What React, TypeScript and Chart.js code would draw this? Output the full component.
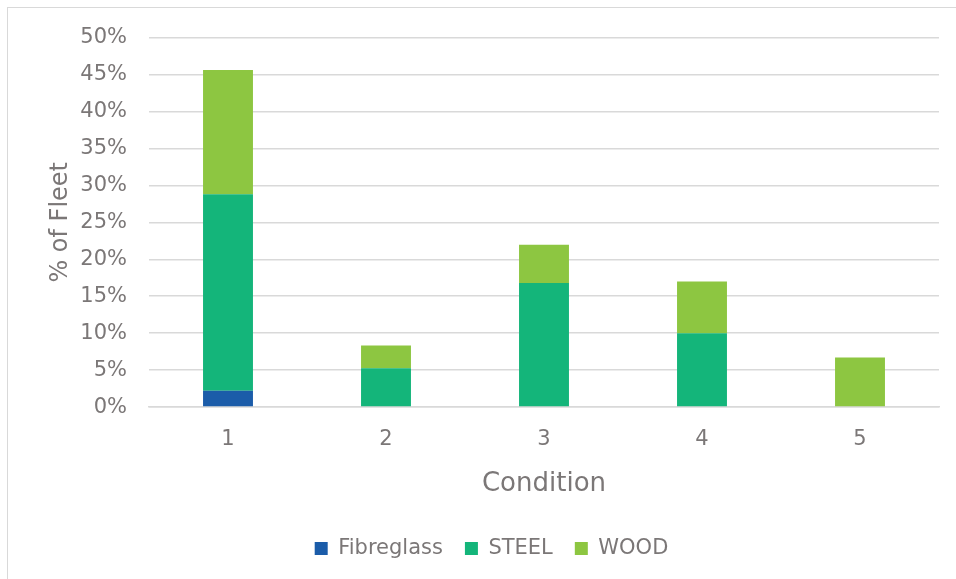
import React, { useEffect, useRef } from "react";
import { Chart, registerables } from "chart.js";

Chart.register(...registerables);

const categories = ["1", "2", "3", "4", "5"];
const fibreglass = [2.2, 0, 0, 0, 0];
const steel = [26.6, 5.25, 16.8, 10.0, 0];
const wood = [16.8, 3.1, 5.15, 7.0, 6.7];
const yTicks = [0, 5, 10, 15, 20, 25, 30, 35, 40, 45, 50];

const TEXT = "#7b7777";
const FONT = "'DejaVu Sans', sans-serif";

export default function App() {
  const ref = useRef<HTMLCanvasElement | null>(null);
  useEffect(() => {
    document.body.style.overflow = "hidden";
    const ctx = ref.current!.getContext("2d")!;
    const chart = new Chart(ctx, {
      type: "bar",
      data: {
        labels: categories,
        datasets: [
          { label: "Fibreglass", data: fibreglass, backgroundColor: "#1b5ca9" },
          { label: "STEEL", data: steel, backgroundColor: "#14b57a" },
          { label: "WOOD", data: wood, backgroundColor: "#8dc641" },
        ],
      },
      options: {
        responsive: false,
        animation: false,
        layout: { padding: { left: 44, right: 17, top: 37.5, bottom: 10 } },
        datasets: { bar: { categoryPercentage: 1, barPercentage: 0.316 } } as any,
        scales: {
          x: {
            stacked: true,
            afterFit: (s: any) => {
              s.height = 108.9;
            },
            grid: { display: false, drawTicks: false },
            border: { display: true, color: "#d9d9d9", width: 1.5 },
            ticks: { color: TEXT, font: { family: FONT, size: 21 }, padding: 20 },
            title: {
              display: true,
              text: "Condition",
              color: TEXT,
              font: { family: FONT, size: 26 },
              padding: { top: 4, bottom: 16 },
            },
          },
          y: {
            stacked: true,
            min: 0,
            max: 50,
            afterBuildTicks: (s: any) => {
              s.ticks = yTicks.map((v) => ({ value: v }));
            },
            afterFit: (s: any) => {
              s.width = 105;
            },
            grid: { color: "#d9d9d9", lineWidth: 1.5, drawTicks: false },
            border: { display: false },
            ticks: {
              color: TEXT,
              font: { family: FONT, size: 21 },
              padding: 22,
              callback: (v: any) => v + "%",
            },
            title: {
              display: true,
              text: "% of Fleet",
              color: TEXT,
              font: { family: FONT, size: 24 },
              padding: { top: 2, bottom: 4 },
            },
          },
        },
        plugins: {
          legend: {
            position: "bottom",
            labels: {
              color: TEXT,
              font: { family: FONT, size: 21 },
              boxWidth: 13,
              boxHeight: 13,
              padding: 22,
            },
          },
          tooltip: { enabled: false },
        },
      },
    });
    return () => chart.destroy();
  }, []);

  return (
    <div style={{ position: "fixed", left: 0, top: 0, width: 956, height: 579, overflow: "hidden", background: "#fff" }}>
      <div
        style={{
          position: "absolute",
          left: 6.5,
          top: 7,
          width: 1000,
          height: 1000,
          borderLeft: "1.5px solid #d9d9d9",
          borderTop: "1.5px solid #d9d9d9",
        }}
      />
      <canvas ref={ref} width={956} height={579} style={{ position: "absolute", left: 0, top: 0 }} />
    </div>
  );
}
